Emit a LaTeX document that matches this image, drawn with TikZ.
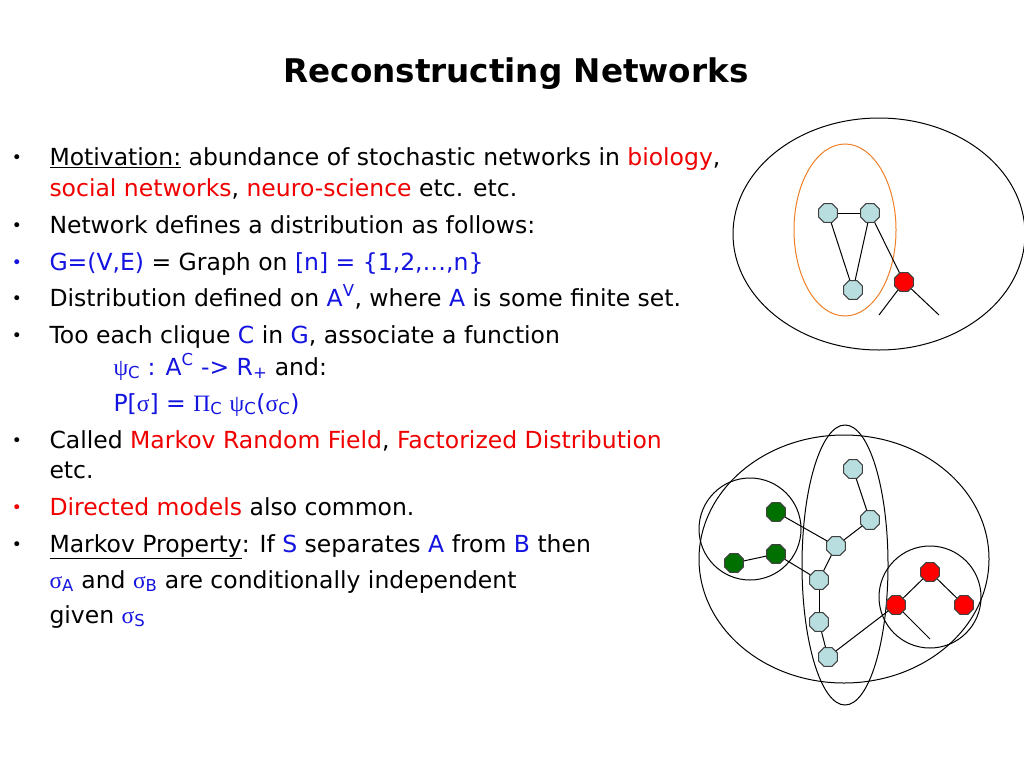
\documentclass[tikz,border=0pt]{standalone}
\usepackage{fontspec}
\setmainfont{DejaVu Sans}
\newfontfamily\greekfont{Liberation Serif}
\usetikzlibrary{shapes.geometric}
\definecolor{nodecyan}{RGB}{184,222,224}
\definecolor{nodegreen}{RGB}{0,112,0}
\definecolor{txtred}{RGB}{240,0,0}
\definecolor{txtblue}{RGB}{20,20,225}
\definecolor{cliqueorange}{RGB}{240,128,40}
\newcommand{\gk}[1]{{\greekfont #1}}

\begin{document}
\begin{tikzpicture}[x=1pt,y=-1pt,line width=1pt,
                    oct/.style={regular polygon,regular polygon sides=8,draw=black!75,inner sep=0pt,minimum size=20.5pt},
                    cyan node/.style={oct,fill=nodecyan},
                    green node/.style={oct,fill=nodegreen},
                    red node/.style={oct,fill=red},
                    txt/.style={anchor=base west,inner sep=0pt,font=\fontsize{23.5}{28}\selectfont},
                    dot/.style={anchor=base,inner sep=0pt,font=\fontsize{17}{20}\selectfont}]
  \useasboundingbox[fill=white] (0,0) rectangle (1024,768);

  \node[anchor=base,font=\fontsize{32.6}{38}\selectfont\bfseries] (title) at (516,82) {Reconstructing Networks};

  \node[dot] (d1) at (17,163) {•};
  \node[dot] (d3) at (17,231) {•};
  \node[dot,txtblue] (d4) at (17,268) {•};
  \node[dot] (d5) at (17,304) {•};
  \node[dot] (d6) at (17,341) {•};
  \node[dot] (d9) at (17,446) {•};
  \node[dot,txtred] (d11) at (17,513) {•};
  \node[dot] (d12) at (17,550) {•};

  \node[txt] (l1) at (49,165) {\underline{Motivation:} abundance of stochastic networks in {\color{txtred}biology},};
  \node[txt] (l2) at (49,196) {{\color{txtred}social networks}, {\color{txtred}neuro-science} etc. etc.};
  \node[txt] (l3) at (49,233) {Network defines a distribution as follows:};
  \node[txt] (l4) at (49,270) {{\color{txtblue}G=(V,E)} = Graph on {\color{txtblue}[n] = \{1,2,…,n\}}};
  \node[txt] (l5) at (49,306) {Distribution defined on {\color{txtblue}A\textsuperscript{V}}, where {\color{txtblue}A} is some finite set.};
  \node[txt] (l6) at (49,343) {Too each clique {\color{txtblue}C} in {\color{txtblue}G}, associate a function};
  \node[txt] (l7) at (113,375) {{\color{txtblue}\gk{ψ}\textsubscript{C} : A\textsuperscript{C} -> R\textsubscript{+}} and:};
  \node[txt,txtblue] (l8) at (113,411) {P[\gk{σ}] = \gk{Π}\textsubscript{C} \gk{ψ}\textsubscript{C}(\gk{σ}\textsubscript{C})};
  \node[txt] (l9) at (49,448) {Called {\color{txtred}Markov Random Field}, {\color{txtred}Factorized Distribution}};
  \node[txt] (l10) at (49,478) {etc.};
  \node[txt] (l11) at (49,515) {{\color{txtred}Directed models} also common.};
  \node[txt] (l12) at (49,552) {\underline{Markov Property}: If {\color{txtblue}S} separates {\color{txtblue}A} from {\color{txtblue}B} then};
  \node[txt] (l13) at (49,588) {{\color{txtblue}\gk{σ}\textsubscript{A}} and {\color{txtblue}\gk{σ}\textsubscript{B}} are conditionally independent};
  \node[txt] (l14) at (49,623) {given {\color{txtblue}\gk{σ}\textsubscript{S}}};

  \draw (879,234) ellipse [x radius=146, y radius=116];
  \draw[cliqueorange] (845,230) ellipse [x radius=51, y radius=86];

  \node[cyan node] (a1) at (828,213) {};
  \node[cyan node] (a2) at (870,213) {};
  \node[cyan node] (a3) at (853,290) {};
  \node[red node] (a4) at (904,282) {};
  \coordinate (e1) at (879,315);
  \coordinate (e2) at (939,315);

  \path[draw]
    (a1) edge (a2)
         edge (a3)
    (a2) edge (a3)
         edge (a4)
    (a4) edge (e1)
         edge (e2);

  \draw (844,559) ellipse [x radius=145, y radius=124];
  \draw (845,565) ellipse [x radius=43, y radius=140];
  \draw (750,529) circle [radius=51];
  \draw (930,597) circle [radius=51];

  \node[cyan node] (b1) at (853,469) {};
  \node[cyan node] (b2) at (870,520) {};
  \node[cyan node] (b3) at (836,546) {};
  \node[cyan node] (b4) at (819,580) {};
  \node[cyan node] (b5) at (819,622) {};
  \node[cyan node] (b6) at (828,657) {};
  \node[green node] (g1) at (776,512) {};
  \node[green node] (g2) at (776,554) {};
  \node[green node] (g3) at (734,563) {};
  \node[red node] (r1) at (930,572) {};
  \node[red node] (r2) at (896,605) {};
  \node[red node] (r3) at (964,605) {};
  \coordinate (e3) at (930,639);

  \path[draw]
    (b1) edge (b2)
    (b2) edge (b3)
    (b3) edge (b4)
    (b4) edge (b5)
    (b5) edge (b6)
    (g1) edge (b3)
    (g2) edge (b4)
    (g3) edge (g2)
    (b6) edge (r2)
    (r1) edge (r2)
         edge (r3)
    (r2) edge (e3);
\end{tikzpicture}
\end{document}
